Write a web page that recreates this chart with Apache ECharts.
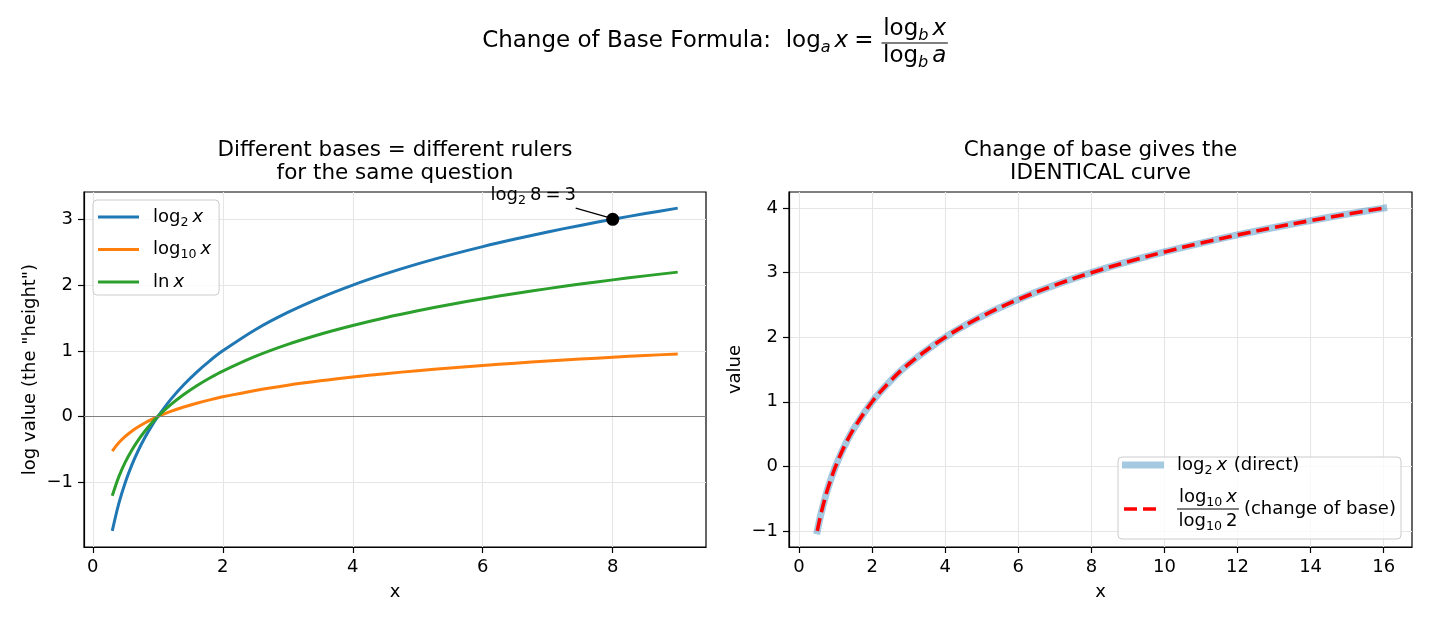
<!DOCTYPE html>
<html><head><meta charset="utf-8">
<script src="https://cdn.jsdelivr.net/npm/echarts@6/dist/echarts.min.js"></script>
<style>html,body{margin:0;padding:0;background:#fff}#c{width:1430px;height:624px}</style>
</head><body><div id="c"></div>
<script>
// ---------- data ----------
const leftX     = [0.3,0.4,0.5,0.6,0.7,0.8,0.9,1.0,1.2,1.4,1.6,1.8,2.0,2.5,3.0,3.5,4.0,4.5,5.0,5.5,6.0,6.5,7.0,7.5,8.0,8.5,9.0];
const log2Vals  = [-1.737,-1.322,-1.000,-0.737,-0.515,-0.322,-0.152,0.000,0.263,0.485,0.678,0.848,1.000,1.322,1.585,1.807,2.000,2.170,2.322,2.459,2.585,2.700,2.807,2.907,3.000,3.087,3.170];
const log10Vals = [-0.523,-0.398,-0.301,-0.222,-0.155,-0.097,-0.046,0.000,0.079,0.146,0.204,0.255,0.301,0.398,0.477,0.544,0.602,0.653,0.699,0.740,0.778,0.813,0.845,0.875,0.903,0.929,0.954];
const lnVals    = [-1.204,-0.916,-0.693,-0.511,-0.357,-0.223,-0.105,0.000,0.182,0.336,0.470,0.588,0.693,0.916,1.099,1.253,1.386,1.504,1.609,1.705,1.792,1.872,1.946,2.015,2.079,2.140,2.197];
const markedPoint = [8, 3];
const annotationAnchor = [6.12, 3.37];
const arrowFrom = [7.43, 3.17];
const arrowTo   = [7.93, 3.03];

const rightX     = [0.5,0.55,0.6,0.7,0.8,1.0,1.25,1.5,2.0,2.5,3.0,4.0,5.0,6.0,7.0,8.0,9.0,10.0,11.0,12.0,13.0,14.0,15.0,16.0];
const directVals = [-1.000,-0.862,-0.737,-0.515,-0.322,0.000,0.322,0.585,1.000,1.322,1.585,2.000,2.322,2.585,2.807,3.000,3.170,3.322,3.459,3.585,3.700,3.807,3.907,4.000];
const changeVals = [-1.000,-0.862,-0.737,-0.515,-0.322,0.000,0.322,0.585,1.000,1.322,1.585,2.000,2.322,2.585,2.807,3.000,3.170,3.322,3.459,3.585,3.700,3.807,3.907,4.000];

const leftXTicks  = [0,2,4,6,8];
const leftYTicks  = [-1,0,1,2,3];
const rightXTicks = [0,2,4,6,8,10,12,14,16];
const rightYTicks = [-1,0,1,2,3,4];

// ---------- helpers ----------
const FONT = 'DejaVu Sans';
const fmt = v => (v < 0 ? '\u2212' + Math.abs(v) : String(v));
const pairs = (xs, ys) => xs.map((x, i) => [x, ys[i]]);

function axis(gridIndex, min, max, ticks, splitNumber, name, nameGap) {
  return {
    type: 'value', gridIndex, min, max, splitNumber,
    name, nameLocation: 'middle', nameGap,
    nameTextStyle: {fontSize: 18, fontFamily: FONT, color: '#000'},
    axisLine: {show: true, onZero: false, lineStyle: {color: '#000', width: 1.2}},
    axisTick: {show: true, inside: false, length: 6, lineStyle: {color: '#000', width: 1.2}, customValues: ticks},
    axisLabel: {show: true, margin: 11, fontSize: 18, fontFamily: FONT, color: '#000', customValues: ticks, formatter: fmt},
    splitLine: {show: true, lineStyle: {color: '#e6e6e6', width: 1.1}}
  };
}

const chart = echarts.init(document.getElementById('c'), null, {renderer: 'canvas'});

const legendRich = {
  p: {fontSize: 18, fontFamily: FONT, color: '#000', lineHeight: 24, padding: [0, 0, 0, 9]},
  s: {fontSize: 12.6, fontFamily: FONT, color: '#000', lineHeight: 13, verticalAlign: 'bottom'},
  i: {fontSize: 18, fontFamily: FONT, color: '#000', lineHeight: 24, fontStyle: 'italic', padding: [0, 0, 0, 4]}
};
const legendLabels = {
  'log2': '{p|log}{s|2}{i|x}',
  'log10': '{p|log}{s|10}{i|x}',
  'ln': '{p|ln}{i|x}'
};

const SMOOTH = 0.35;

chart.setOption({
  animation: false,
  backgroundColor: '#fff',
  grid: [
    {left: 84, top: 192, width: 622, height: 355, show: true, borderColor: '#000', borderWidth: 1.2, containLabel: false},
    {left: 789, top: 192, width: 623, height: 355, show: true, borderColor: '#000', borderWidth: 1.2, containLabel: false}
  ],
  xAxis: [
    axis(0, -0.135, 9.435, leftXTicks, 5, 'x', 36),
    axis(1, -0.275, 16.775, rightXTicks, 8, 'x', 36)
  ],
  yAxis: [
    axis(0, -1.982, 3.415, leftYTicks, 5, 'log value (the "height")', 45),
    axis(1, -1.25, 4.25, rightYTicks, 5, 'value', 45)
  ],
  legend: {
    data: ['log2', 'log10', 'ln'],
    orient: 'vertical', left: 93, top: 200,
    padding: [8, 8, 4, 5],
    itemWidth: 41, itemHeight: 3, itemGap: 11.5,
    icon: 'rect',
    backgroundColor: 'rgba(255,255,255,0.8)',
    borderColor: '#cccccc', borderWidth: 1, borderRadius: 4,
    formatter: n => legendLabels[n],
    textStyle: {fontSize: 18, fontFamily: FONT, color: '#000', rich: legendRich}
  },
  series: [
    {name: 'log2', type: 'line', xAxisIndex: 0, yAxisIndex: 0, data: pairs(leftX, log2Vals),
     color: '#1f77b4', showSymbol: false, symbol: 'none', smooth: SMOOTH,
     lineStyle: {width: 3, color: '#1f77b4'}, z: 3,
     markLine: {silent: true, symbol: ['none', 'none'], label: {show: false},
       lineStyle: {color: '#808080', width: 1, type: 'solid'}, data: [{yAxis: 0}]}},
    {name: 'log10', type: 'line', xAxisIndex: 0, yAxisIndex: 0, data: pairs(leftX, log10Vals),
     color: '#ff7f0e', showSymbol: false, symbol: 'none', smooth: SMOOTH,
     lineStyle: {width: 3, color: '#ff7f0e'}, z: 3},
    {name: 'ln', type: 'line', xAxisIndex: 0, yAxisIndex: 0, data: pairs(leftX, lnVals),
     color: '#2ca02c', showSymbol: false, symbol: 'none', smooth: SMOOTH,
     lineStyle: {width: 3, color: '#2ca02c'}, z: 3},
    {name: 'point', type: 'scatter', xAxisIndex: 0, yAxisIndex: 0, data: [markedPoint],
     symbolSize: 13, itemStyle: {color: '#000', opacity: 1}, z: 5,
     markLine: {silent: true, symbol: ['none', 'arrow'], symbolSize: [0, 8], label: {show: false},
       lineStyle: {color: '#000', width: 1.2, type: 'solid'},
       data: [[{coord: arrowFrom}, {coord: arrowTo}]]}},
    {name: 'direct', type: 'line', xAxisIndex: 1, yAxisIndex: 1, data: pairs(rightX, directVals),
     showSymbol: false, symbol: 'none', smooth: SMOOTH,
     lineStyle: {width: 7, color: 'rgba(31,119,180,0.4)', cap: 'square'}, z: 3},
    {name: 'change', type: 'line', xAxisIndex: 1, yAxisIndex: 1, data: pairs(rightX, changeVals),
     showSymbol: false, symbol: 'none', smooth: SMOOTH,
     lineStyle: {width: 3.6, color: '#ff0000', type: [13, 6]}, z: 4}
  ]
});

// ---------- math-like text layout for titles / legend / annotation ----------
const meas = document.createElement('canvas').getContext('2d');
function tw(t, size, it) {
  meas.font = (it ? 'italic ' : 'normal ') + 'normal ' + size + 'px "' + FONT + '"';
  return meas.measureText(t).width;
}
function runWidth(parts, F) {
  let w = 0;
  for (const p of parts) { w += (p.pre || 0) + tw(p.t, p.sub ? F * 0.7 : F, p.it); }
  return w;
}
function mathRun(parts, x, y, F, out, z) {
  let cx = x;
  for (const p of parts) {
    cx += (p.pre || 0);
    const size = p.sub ? F * 0.7 : F;
    out.push({type: 'text', x: cx, y: y + (p.sub ? F * 0.3 : 0), silent: true, z: z || 100,
      style: {text: p.t, fontSize: size, fontFamily: FONT, fontStyle: p.it ? 'italic' : 'normal',
              fill: '#000', textAlign: 'left', textVerticalAlign: 'middle'}});
    cx += tw(p.t, size, p.it);
  }
  return cx - x;
}
function fraction(num, den, x, yBar, F, out, gapUp, gapDown) {
  const wn = runWidth(num, F), wd = runWidth(den, F);
  const w = Math.max(wn, wd) + 3;
  mathRun(num, x + (w - wn) / 2, yBar - gapUp, F, out);
  mathRun(den, x + (w - wd) / 2, yBar + gapDown, F, out);
  out.push({type: 'line', silent: true, z: 100, shape: {x1: x, y1: yBar, x2: x + w, y2: yBar},
            style: {stroke: '#000', lineWidth: 1.2}});
  return w;
}

const gfx = [];

// Suptitle
const TF = 23;
const supMain = [{t: 'Change of Base Formula:  '}, {t: 'log'}, {t: 'a', it: 1, sub: 1}, {t: 'x', it: 1, pre: 4}, {t: '=', pre: 6}];
const supNum = [{t: 'log'}, {t: 'b', it: 1, sub: 1}, {t: 'x', it: 1, pre: 4}];
const supDen = [{t: 'log'}, {t: 'b', it: 1, sub: 1}, {t: 'a', it: 1, pre: 4}];
const fracW = Math.max(runWidth(supNum, TF), runWidth(supDen, TF)) + 3;
const supTotal = runWidth(supMain, TF) + 8 + fracW;
const supX = 715 - supTotal / 2;
const wMain = mathRun(supMain, supX, 41, TF, gfx);
fraction(supNum, supDen, supX + wMain + 8, 43, TF, gfx, 14, 13);

// Subplot titles
gfx.push({type: 'text', x: 395, y: 162, silent: true, style: {text: 'Different bases = different rulers\nfor the same question',
  fontSize: 21.5, lineHeight: 23, fontFamily: FONT, fill: '#000', textAlign: 'center', textVerticalAlign: 'middle'}});
gfx.push({type: 'text', x: 1100.5, y: 162, silent: true, style: {text: 'Change of base gives the\nIDENTICAL curve',
  fontSize: 21.5, lineHeight: 23, fontFamily: FONT, fill: '#000', textAlign: 'center', textVerticalAlign: 'middle'}});

// Annotation text (anchored through the left grid's scales)
const ap = chart.convertToPixel({gridIndex: 0}, annotationAnchor);
mathRun([{t: 'log'}, {t: '2', sub: 1}, {t: '8', pre: 4}, {t: '=', pre: 4}, {t: '3', pre: 4}], ap[0], ap[1], 18, gfx);

// Right legend
const LF = 18;
gfx.push({type: 'rect', z: 90, silent: true, shape: {x: 1118, y: 457, width: 283, height: 82, r: 4},
  style: {fill: 'rgba(255,255,255,0.8)', stroke: '#cccccc', lineWidth: 1}});
gfx.push({type: 'line', z: 95, silent: true, shape: {x1: 1122, y1: 465, x2: 1164, y2: 465},
  style: {stroke: 'rgba(31,119,180,0.4)', lineWidth: 7}});
mathRun([{t: 'log'}, {t: '2', sub: 1}, {t: 'x', it: 1, pre: 4}, {t: ' (direct)', pre: 1}], 1177, 465, LF, gfx);
gfx.push({type: 'line', z: 95, silent: true, shape: {x1: 1124, y1: 509, x2: 1160, y2: 509},
  style: {stroke: '#ff0000', lineWidth: 3.6, lineDash: [13, 6]}});
const lw = fraction([{t: 'log'}, {t: '10', sub: 1}, {t: 'x', it: 1, pre: 4}],
                    [{t: 'log'}, {t: '10', sub: 1}, {t: '2', pre: 4}], 1177, 509, LF, gfx, 12, 12);
mathRun([{t: '(change of base)'}], 1177 + lw + 5, 509, LF, gfx);

chart.setOption({graphic: {elements: gfx}});
</script>
</body></html>
